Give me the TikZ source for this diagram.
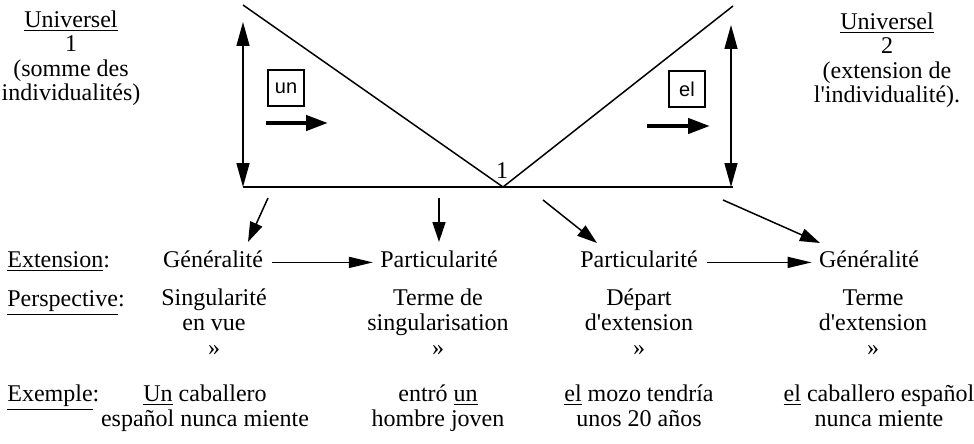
\documentclass[tikz,border=0pt]{standalone}
\usepackage{fontspec}
\setmainfont{Liberation Serif}
\newfontfamily\boxfont{Liberation Sans}
\usetikzlibrary{arrows.meta,positioning}

\tikzset{
	txt/.style={inner sep=0pt, align=center, anchor=base, font=\fontsize{12}{12.3}\selectfont},
	rowlabel/.style={txt, anchor=base west},
	wordbox/.style={draw, line width=0.75pt, inner sep=0pt, minimum size=18pt, font=\boxfont\fontsize{10}{10}\selectfont},
	vline/.style={line width=0.75pt},
	twoway/.style={line width=0.75pt, {Triangle[length=12pt,width=6.5pt]}-{Triangle[length=12pt,width=6.5pt]}},
	sense/.style={line width=2.2pt, -{Triangle[length=11pt,width=7.5pt]}},
	downarrow/.style={line width=0.75pt, -{Triangle[length=10pt,width=6.5pt]}},
	steparrow/.style={line width=0.75pt, -{Triangle[length=12pt,width=5.5pt]}, shorten <=4.5pt, shorten >=3.5pt}
}

\begin{document}
\begin{tikzpicture}[x=0.5pt, y=-0.5pt]
	\useasboundingbox (0,0) rectangle (974,444);

	\coordinate(tl) at (243,5);
	\coordinate(vx) at (503,187);
	\coordinate(tr) at (733,6);
	\coordinate(bl) at (243,187);
	\coordinate(br) at (733,187);

	\draw[vline] (tl) -- (vx) -- (tr);
	\draw[vline] (bl) -- (br);
	\draw[twoway] (243,22) -- (bl);
	\draw[twoway] (731,25) -- (731,187);

	\node(one) [txt] at (502,178) {1};

	\node(U1) [txt] at (71,101) {\underline{Universel}\\1\\(somme des\\individualités)};
	\node(U2) [txt] at (887,103) {\underline{Universel}\\2\\(extension de\\l\textquotesingle individualité).};

	\node(un) [wordbox] at (286,88) {un};
	\node(el) [wordbox] at (687,89) {el};
	\coordinate(un1) at (266,123);
	\coordinate(un2) at (328,123);
	\coordinate(el1) at (647,126);
	\coordinate(el2) at (710,126);
	\draw[sense] (un1) -- (un2);
	\draw[sense] (el1) -- (el2);

	\node(ext) [rowlabel] at (7,267) {\underline{Extension}:};
	\node(per) [rowlabel] at (7,306) {\underline{Perspective}:};
	\node(exe) [rowlabel] at (7,401) {\underline{Exemple}:};

	\node(gen1) [txt] at (213,267) {Généralité};
	\node(par1) [txt] at (439,267) {Particularité};
	\node(par2) [txt] at (639,267) {Particularité};
	\node(gen2) [txt] at (869,267) {Généralité};

	\node(per1) [txt] at (214,355) {Singularité\\en vue\\»};
	\node(per2) [txt] at (438,355) {Terme de\\singularisation\\»};
	\node(per3) [txt] at (639,355) {Départ\\d\textquotesingle extension\\»};
	\node(per4) [txt] at (873,355) {Terme\\d\textquotesingle extension\\»};

	\node(ex1) [txt] at (205,426) {\underline{Un} caballero\\español nunca miente};
	\node(ex2) [txt] at (438,426) {entró \underline{un}\\hombre joven};
	\node(ex3) [txt] at (639,426) {\underline{el} mozo tendría\\unos 20 años};
	\node(ex4) [txt] at (879,426) {\underline{el} caballero español\\nunca miente};

	\coordinate(s1) at (268,198);
	\coordinate(s2) at (439,198);
	\coordinate(s3) at (543,200);
	\coordinate(s4) at (723,200);

	\draw[downarrow] (s1) -- (248,242);
	\draw[downarrow] (s2) -- (439,242);
	\draw[downarrow] (s3) -- (597,243);
	\draw[downarrow] (s4) -- (820,243);

	\draw[steparrow] (gen1.mid east) -- (par1.mid west);
	\draw[steparrow] (par2.mid east) -- (gen2.mid west);

\end{tikzpicture}
\end{document}
